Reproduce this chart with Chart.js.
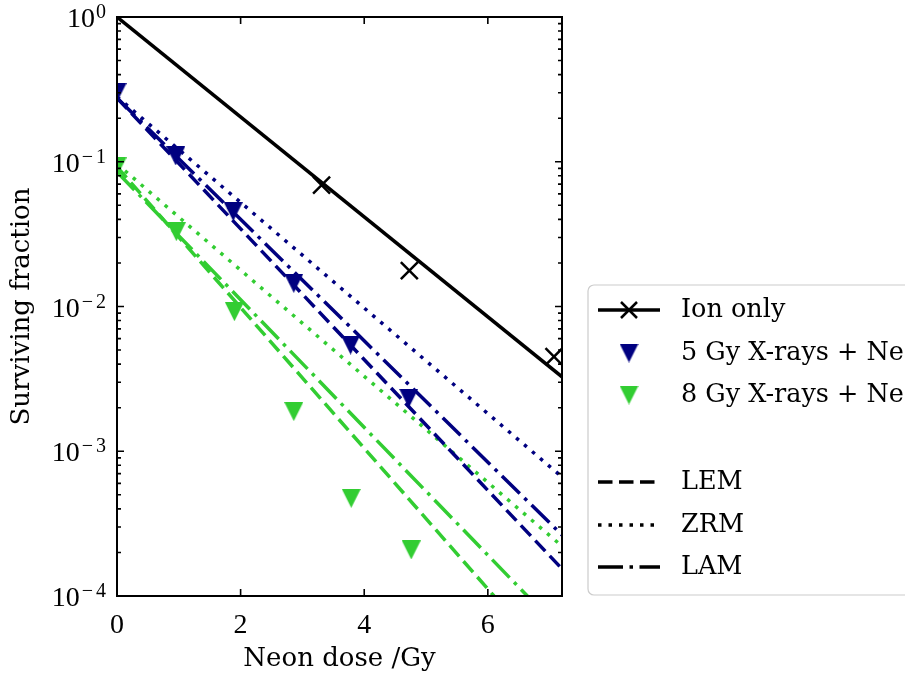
<!DOCTYPE html>
<html>
<head>
<meta charset="utf-8">
<script src="https://cdn.jsdelivr.net/npm/chart.js@4/dist/chart.umd.min.js"></script>
<style>
  html, body { margin: 0; padding: 0; background: #fff; }
  #wrap { width: 905px; height: 677px; position: relative; }
</style>
</head>
<body>
<div id="wrap"><canvas id="survChart"></canvas></div>
<script>
// Survival of cells after neon ions, alone and after an X-ray pre-dose,
// with the LEM / ZRM / LAM model predictions.

var X_MAX = 7.2;
var X_TICKS = [0, 2, 4, 6];
var Y_TICKS = [1e-4, 1e-3, 1e-2, 1e-1, 1];

// measured points (neon dose in Gy, surviving fraction)
var ION_DOSE = [3.31, 4.73, 7.07];
var ION_SF = [0.069, 0.0177, 0.0045];
var XR5_DOSE = [0, 0.95, 1.88, 2.86, 3.78, 4.72];
var XR5_SF = [0.30, 0.1096, 0.0452, 0.01445, 0.00542, 0.00232];
var XR8_DOSE = [0, 0.96, 1.90, 2.86, 3.79, 4.76];
var XR8_SF = [0.092, 0.0329, 0.0092, 0.00188, 0.000473, 0.000208];

// model curves
var ION_FIT_DOSE = [0, 7.2];
var ION_FIT_SF = [1, 0.00327];
var LEM5_DOSE = [0, 7.2];
var LEM5_SF = [0.2757, 0.000154];
var ZRM5_DOSE = [0, 7.2];
var ZRM5_SF = [0.281, 0.000664];
var LAM5_DOSE = [0, 7.2];
var LAM5_SF = [0.2757, 0.000264];
var LEM8_DOSE = [0, 6.10];
var LEM8_SF = [0.0923, 0.0001];
var ZRM8_DOSE = [0, 7.2];
var ZRM8_SF = [0.0965, 0.000221];
var LAM8_DOSE = [0, 6.64];
var LAM8_SF = [0.085, 0.0001];

var SERIES_NAMES = ['Ion only', '5 Gy X-rays + Ne', '8 Gy X-rays + Ne'];
var MODEL_NAMES = ['LEM', 'ZRM', 'LAM'];

var NAVY = '#000080';
var GREEN = '#32cd32';
var DASHED = [14.5, 6.5];
var DOTTED = [3.5, 7];
var DASHDOT = [25, 6.5, 3.5, 6.5];
var LW = 3.5;

var SERIF = 'DejaVu Serif';
var TICKFONT = 'Liberation Serif';

function pts(xs, ys) {
  return xs.map(function (x, i) { return { x: x, y: ys[i] }; });
}

function triangleDown(color, size) {
  var c = document.createElement('canvas');
  c.width = size;
  c.height = size;
  var g = c.getContext('2d');
  g.fillStyle = color;
  g.beginPath();
  g.moveTo(0, 0);
  g.lineTo(size, 0);
  g.lineTo(size / 2, size);
  g.closePath();
  g.fill();
  return c;
}

var TRI_NAVY = triangleDown(NAVY, 19);
var TRI_GREEN = triangleDown(GREEN, 19);

function modelLine(label, xs, ys, color, dash) {
  return {
    label: label,
    data: pts(xs, ys),
    showLine: true,
    borderColor: color,
    borderWidth: LW,
    borderDash: dash,
    borderCapStyle: 'butt',
    pointRadius: 0,
    fill: false,
    tension: 0,
    clip: 0,
    order: 1
  };
}

function markers(label, xs, ys, style, radius, color) {
  return {
    label: label,
    data: pts(xs, ys),
    showLine: false,
    pointStyle: style,
    pointRadius: radius,
    pointBackgroundColor: color,
    pointBorderColor: color,
    pointBorderWidth: 2.5,
    clip: 0,
    order: 5
  };
}

// frame, inward ticks, power-of-ten labels and the legend box
var axesDecor = {
  id: 'axesDecor',
  afterDraw: function (chart) {
    var ctx = chart.ctx;
    var a = chart.chartArea;
    var xs = chart.scales.x;
    var ys = chart.scales.y;
    ctx.save();
    ctx.strokeStyle = '#000';
    ctx.lineWidth = 1.6;
    ctx.beginPath();
    X_TICKS.forEach(function (v) {
      var px = xs.getPixelForValue(v);
      ctx.moveTo(px, a.bottom); ctx.lineTo(px, a.bottom - 7);
      ctx.moveTo(px, a.top); ctx.lineTo(px, a.top + 7);
    });
    Y_TICKS.forEach(function (v) {
      var py = ys.getPixelForValue(v);
      ctx.moveTo(a.left, py); ctx.lineTo(a.left + 7, py);
      ctx.moveTo(a.right, py); ctx.lineTo(a.right - 7, py);
      if (v >= 1) return;
      for (var k = 2; k <= 9; k++) {
        var my = ys.getPixelForValue(v * k);
        ctx.moveTo(a.left, my); ctx.lineTo(a.left + 4, my);
        ctx.moveTo(a.right, my); ctx.lineTo(a.right - 4, my);
      }
    });
    ctx.stroke();

    ctx.lineWidth = 2;
    ctx.strokeRect(a.left, a.top, a.right - a.left, a.bottom - a.top);

    // y tick labels: 10 with a raised exponent, wide minus sign
    ctx.fillStyle = '#000';
    ctx.textBaseline = 'alphabetic';
    ctx.textAlign = 'right';
    Y_TICKS.forEach(function (v) {
      var py = ys.getPixelForValue(v);
      var e = Math.round(Math.log10(v));
      ctx.font = '20px "' + TICKFONT + '"';
      var x = 106;
      ctx.fillText(String(Math.abs(e)), x, py + 1);
      x -= ctx.measureText(String(Math.abs(e))).width;
      if (e < 0) {
        x -= 3;
        ctx.fillText('\u2212', x, py + 1);
        x -= ctx.measureText('\u2212').width + 1;
      }
      ctx.font = '28px "' + TICKFONT + '"';
      ctx.fillText('10', x - 1, py + 10);
    });

    // legend
    var lx = 588, ly = 285, lw = 340, lh = 310, r = 6;
    ctx.beginPath();
    ctx.moveTo(lx + r, ly);
    ctx.lineTo(lx + lw, ly);
    ctx.lineTo(lx + lw, ly + lh);
    ctx.lineTo(lx + r, ly + lh);
    ctx.arcTo(lx, ly + lh, lx, ly + lh - r, r);
    ctx.lineTo(lx, ly + r);
    ctx.arcTo(lx, ly, lx + r, ly, r);
    ctx.closePath();
    ctx.fillStyle = '#fff';
    ctx.fill();
    ctx.strokeStyle = '#cccccc';
    ctx.lineWidth = 1.2;
    ctx.stroke();

    var hx0 = 598, hx1 = 660, hm = 629, tx = 681;
    var rows = [310, 353, 395, 482, 525, 567];

    ctx.strokeStyle = '#000';
    ctx.lineWidth = LW;
    ctx.lineCap = 'butt';
    ctx.beginPath();
    ctx.moveTo(hx0, rows[0]); ctx.lineTo(hx1, rows[0]);
    ctx.stroke();
    ctx.lineWidth = 2.5;
    ctx.beginPath();
    ctx.moveTo(hm - 8, rows[0] - 8); ctx.lineTo(hm + 8, rows[0] + 8);
    ctx.moveTo(hm - 8, rows[0] + 8); ctx.lineTo(hm + 8, rows[0] - 8);
    ctx.stroke();
    ctx.drawImage(TRI_NAVY, hm - 9.5, rows[1] - 9.5);
    ctx.drawImage(TRI_GREEN, hm - 9.5, rows[2] - 9.5);

    [DASHED, DOTTED, DASHDOT].forEach(function (d, i) {
      ctx.lineWidth = LW;
      ctx.setLineDash(d);
      ctx.beginPath();
      ctx.moveTo(hx0, rows[3 + i]); ctx.lineTo(hx1, rows[3 + i]);
      ctx.stroke();
    });
    ctx.setLineDash([]);

    ctx.fillStyle = '#000';
    ctx.font = '25.5px "' + SERIF + '"';
    ctx.textAlign = 'left';
    ctx.textBaseline = 'middle';
    SERIES_NAMES.forEach(function (t, i) { ctx.fillText(t, tx, rows[i]); });
    MODEL_NAMES.forEach(function (t, i) { ctx.fillText(t, tx, rows[3 + i]); });
    ctx.restore();
  }
};

new Chart(document.getElementById('survChart').getContext('2d'), {
  type: 'scatter',
  data: {
    datasets: [
      markers(SERIES_NAMES[0], ION_DOSE, ION_SF, 'crossRot', 12, '#000'),
      markers(SERIES_NAMES[1], XR5_DOSE, XR5_SF, TRI_NAVY, 10, NAVY),
      markers(SERIES_NAMES[2], XR8_DOSE, XR8_SF, TRI_GREEN, 10, GREEN),
      modelLine('Ion only fit', ION_FIT_DOSE, ION_FIT_SF, '#000', []),
      modelLine('LEM 5 Gy', LEM5_DOSE, LEM5_SF, NAVY, DASHED),
      modelLine('ZRM 5 Gy', ZRM5_DOSE, ZRM5_SF, NAVY, DOTTED),
      modelLine('LAM 5 Gy', LAM5_DOSE, LAM5_SF, NAVY, DASHDOT),
      modelLine('LEM 8 Gy', LEM8_DOSE, LEM8_SF, GREEN, DASHED),
      modelLine('ZRM 8 Gy', ZRM8_DOSE, ZRM8_SF, GREEN, DOTTED),
      modelLine('LAM 8 Gy', LAM8_DOSE, LAM8_SF, GREEN, DASHDOT)
    ]
  },
  options: {
    responsive: true,
    maintainAspectRatio: false,
    animation: false,
    layout: { padding: { left: 0, right: 343, top: 17, bottom: 0 } },
    plugins: {
      legend: { display: false },
      tooltip: { enabled: false }
    },
    scales: {
      x: {
        type: 'linear',
        min: 0,
        max: X_MAX,
        afterBuildTicks: function (s) { s.ticks = X_TICKS.map(function (v) { return { value: v }; }); },
        afterFit: function (s) { s.height = 81; },
        grid: { display: false },
        border: { display: false },
        ticks: {
          color: '#000',
          font: { family: TICKFONT, size: 28 },
          padding: 5,
          maxRotation: 0,
          autoSkip: false
        },
        title: {
          display: true,
          text: 'Neon dose /Gy',
          color: '#000',
          font: { family: SERIF, size: 26 },
          padding: { top: 0, bottom: 2 }
        }
      },
      y: {
        type: 'logarithmic',
        min: 1e-4,
        max: 1,
        afterBuildTicks: function (s) { s.ticks = Y_TICKS.map(function (v) { return { value: v }; }); },
        afterFit: function (s) { s.width = 117; },
        grid: { display: false },
        border: { display: false },
        ticks: { display: false },
        title: {
          display: true,
          text: 'Surviving fraction',
          color: '#000',
          font: { family: SERIF, size: 26 },
          padding: { top: 7, bottom: 0 }
        }
      }
    }
  },
  plugins: [axesDecor]
});
</script>
</body>
</html>
